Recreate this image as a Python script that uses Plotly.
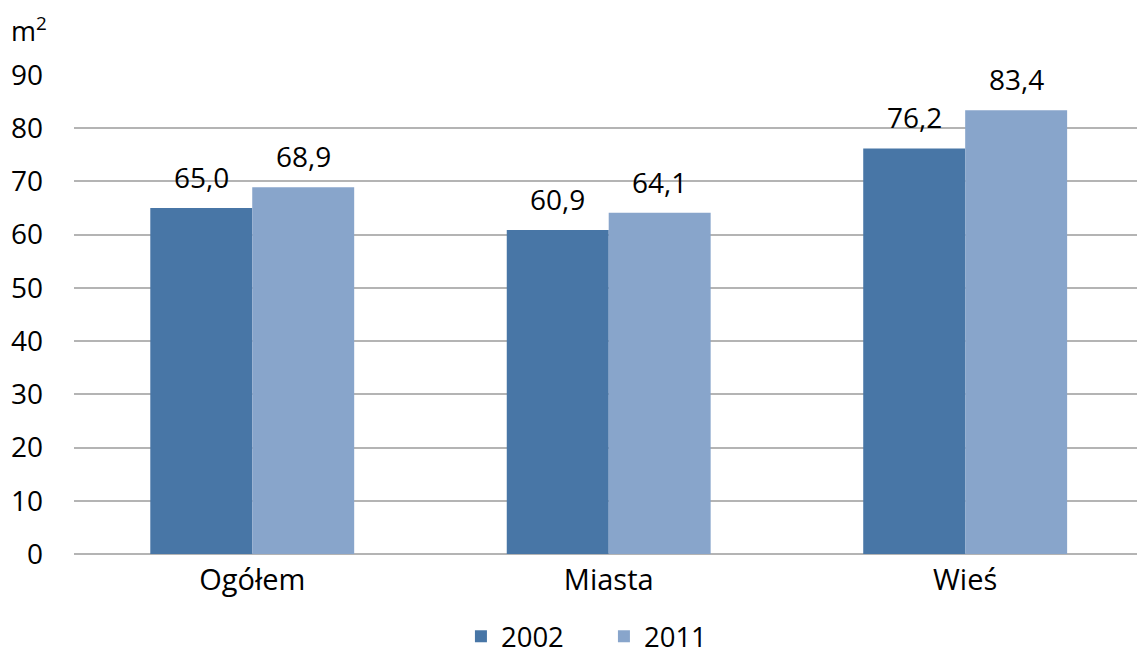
import plotly.graph_objects as go

categories = ["Ogółem", "Miasta", "Wieś"]
series_names = ["2002", "2011"]
values_2002 = [65.0, 60.9, 76.2]
values_2011 = [68.9, 64.1, 83.4]
y_ticks = [0, 10, 20, 30, 40, 50, 60, 70, 80, 90]

colors = ["#4876A6", "#88A5CB"]
FONT = "Open Sans"
BARGAP = 0.428

fig = go.Figure()
for name, vals, col in zip(series_names, [values_2002, values_2011], colors):
    fig.add_trace(go.Bar(
        x=categories, y=vals, name=name,
        marker=dict(color=col, line=dict(width=0)),
    ))

# data labels positioned from the data (category index +/- half bar width)
bar_w = (1 - BARGAP) / 2
annotations = []
for k, vals in enumerate([values_2002, values_2011]):
    off = (k - 0.5) * bar_w
    for i, v in enumerate(vals):
        annotations.append(dict(
            x=i + off, y=v, xref="x", yref="y", text=f"{v:.1f}".replace(".", ","),
            showarrow=False, yanchor="bottom", yshift=10,
            font=dict(family=FONT, size=28, color="black")))

annotations.append(dict(text="m<sup>2</sup>", xref="paper", yref="paper", x=-0.061, xanchor="left",
                        y=1.095, yanchor="middle", showarrow=False,
                        font=dict(family=FONT, size=27, color="black")))

fig.update_layout(
    width=1137, height=657,
    margin=dict(l=74, r=0, t=74.5, b=102.5, autoexpand=False),
    paper_bgcolor="white", plot_bgcolor="white",
    barmode="group", bargap=BARGAP, bargroupgap=0,
    separators=", ",
    font=dict(family=FONT, size=28, color="black"),
    showlegend=True,
    legend=dict(orientation="h", x=0.364, xanchor="left", y=-0.172, yanchor="middle",
                font=dict(family=FONT, size=27.5, color="black"),
                itemwidth=30, entrywidth=98, entrywidthmode="pixels",
                bgcolor="rgba(0,0,0,0)"),
    xaxis=dict(range=[-0.5, 2.482], showgrid=False, showline=False, ticks="",
               ticklabelstandoff=6,
               tickfont=dict(family=FONT, size=29, color="black")),
    yaxis=dict(range=[0, 90], tickvals=y_ticks, showgrid=True, gridcolor="#B4B4B4",
               gridwidth=2, zeroline=True, zerolinecolor="#B4B4B4", zerolinewidth=2,
               showline=False, ticks="", ticklabelstandoff=30,
               tickfont=dict(family=FONT, size=28, color="black")),
    annotations=annotations,
)

fig.write_html("out.html")
